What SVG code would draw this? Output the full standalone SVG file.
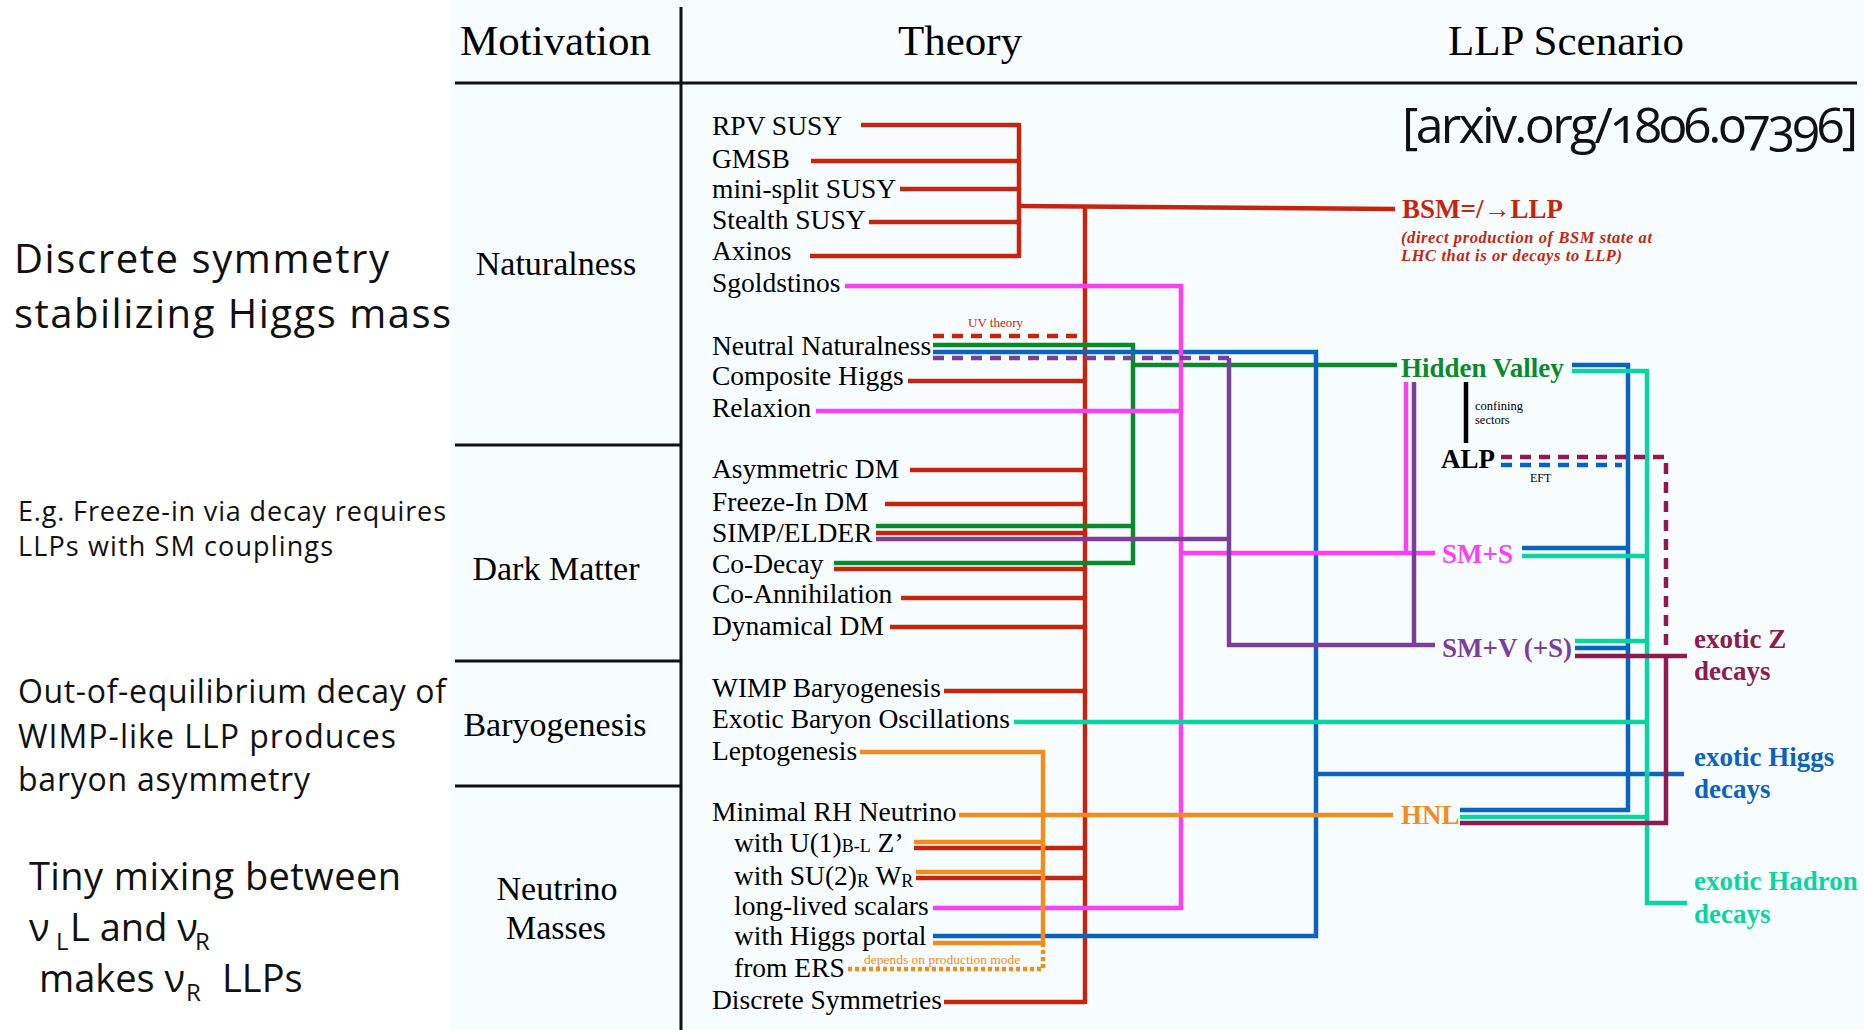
<svg xmlns="http://www.w3.org/2000/svg" width="1864" height="1030" viewBox="0 0 1864 1030">
<style>
.serif{font-family:"Liberation Serif","Times New Roman",serif}
.sans{font-family:"Open Sans","Noto Sans",sans-serif;fill:#111}
.hdr{font-size:43px;fill:#000}
.mot{font-size:34px;fill:#000;text-anchor:middle}
.th{font-size:27.5px;fill:#000}
.sub{font-size:18px}
.lab{font-size:27px;font-weight:bold}
.ln{fill:none;stroke-width:4.5}
.r{stroke:#c5250c}.g{stroke:#0a8a2b}.b{stroke:#0b63c1}.p{stroke:#fc3ff7}.v{stroke:#7b3f9b}.o{stroke:#f28c1c}.t{stroke:#0cd4a0}.m{stroke:#8f1a4f}.k{stroke:#000}
.dash{stroke-dasharray:11 8}
.dot{stroke-dasharray:4 3}
.frame{stroke:#111;stroke-width:3;fill:none}
.fr{fill:#c5250c}.fg{fill:#0a8a2b}.fb{fill:#0b63c1}.fp{fill:#fc3ff7}.fv{fill:#7b3f9b}.fo{fill:#f28c1c}.ft{fill:#0cd4a0}.fm{fill:#8f1a4f}.fk{fill:#000}
</style>
<rect x="0" y="0" width="1864" height="1030" fill="#ffffff"/>
<rect x="450" y="0" width="1414" height="1030" fill="#f7fcff"/>

<g id="table">
  <path class="frame" d="M681,7 V1030"/>
  <path class="frame" d="M455,83 H1857"/>
  <path class="frame" d="M455,445 H681 M455,661 H681 M455,786 H681"/>
</g>

<g id="connectors">
  <!-- red -->
  <path class="ln r" d="M861,125 H1019 M811,161 H1019 M900,189 H1019 M869,222 H1019 M810,256 H1019"/>
  <path class="ln r" d="M1019,123 V258"/>
  <path class="ln r" d="M1019,206 L1395,209"/>
  <path class="ln r" d="M1085,207 V1004"/>
  <path class="ln r" d="M908,381 H1085 M910,470 H1085 M885,504 H1085 M876,533 H1085 M834,569 H1085 M901,598 H1085 M890,627 H1085 M944,691 H1085 M914,848 H1085 M916,878 H1085 M944,1002 H1085"/>
  <path class="ln r dash" d="M933,336 H1077"/>
  <!-- green -->
  <path class="ln g" d="M933,345 H1133 V563 H834"/>
  <path class="ln g" d="M876,526 H1133"/>
  <path class="ln g" d="M1133,365 H1397"/>
  <!-- blue -->
  <path class="ln b" d="M933,352 H1316 V936 H933"/>
  <path class="ln b" d="M1316,774 H1684"/>
  <path class="ln b" d="M1572,365 H1628 V810 H1460"/>
  <path class="ln b" d="M1522,548 H1628 M1575,648 H1628"/>
  <path class="ln b dash" d="M1501,465 H1622"/>
  <!-- pink -->
  <path class="ln p" d="M845,286 H1181 V908 H933"/>
  <path class="ln p" d="M816,411 H1181"/>
  <path class="ln p" d="M1181,553 H1435"/>
  <path class="ln p" d="M1406,382 V553"/>
  <!-- purple -->
  <path class="ln v dash" d="M933,358 H1229"/>
  <path class="ln v" d="M876,539 H1229"/>
  <path class="ln v" d="M1229,358 V645 H1435"/>
  <path class="ln v" d="M1414,382 V645"/>
  <!-- orange -->
  <path class="ln o" d="M860,752 H1043 V943 H933"/>
  <path class="ln o" d="M959,815 H1393"/>
  <path class="ln o" d="M914,842 H1043 M916,872 H1043"/>
  <path class="ln o dot" d="M1043,943 V969 H846"/>
  <!-- teal -->
  <path class="ln t" d="M1014,722 H1647"/>
  <path class="ln t" d="M1572,371 H1647 V903 H1687"/>
  <path class="ln t" d="M1522,556 H1647 M1575,641 H1647 M1460,817 H1647"/>
  <!-- maroon -->
  <path class="ln m dash" d="M1501,457 H1666 V653"/>
  <path class="ln m" d="M1575,656 H1687"/>
  <path class="ln m" d="M1666,656 V823 H1460"/>
  <!-- black -->
  <path class="ln k" d="M1466,382 V443"/>
</g>

<g id="headers" class="serif hdr">
  <text x="460" y="55" textLength="191">Motivation</text>
  <text x="898" y="55">Theory</text>
  <text x="1448" y="55">LLP Scenario</text>
</g>

<g id="motivation-notes" class="sans">
  <g id="note-naturalness">
    <text x="14" y="273" font-size="40" textLength="375">Discrete symmetry</text>
    <text x="14" y="328" font-size="40" textLength="437">stabilizing Higgs mass</text>
  </g>
  <g id="note-dm">
    <text x="18" y="521" font-size="27" textLength="428">E.g. Freeze-in via decay requires</text>
    <text x="18" y="556" font-size="27" textLength="315">LLPs with SM couplings</text>
  </g>
  <g id="note-baryo">
    <text x="18" y="703" font-size="32" textLength="428">Out-of-equilibrium decay of</text>
    <text x="18" y="748" font-size="32" textLength="378">WIMP-like LLP produces</text>
    <text x="18" y="791" font-size="32" textLength="292">baryon asymmetry</text>
  </g>
  <g id="note-nu">
    <text x="29" y="890" font-size="38" textLength="372">Tiny mixing between</text>
    <text y="941" font-size="38"><tspan x="29">ν</tspan><tspan x="56" dy="9" font-size="24">L</tspan><tspan x="70" dy="-9">L and ν</tspan><tspan x="195" dy="9" font-size="24">R</tspan></text>
    <text y="992" font-size="38"><tspan x="39">makes ν</tspan><tspan x="186" dy="9" font-size="24">R</tspan><tspan x="222" dy="-9">LLPs</tspan></text>
  </g>
</g>

<g id="motivations" class="serif mot">
  <g id="m-naturalness"><text x="556" y="275">Naturalness</text></g>
  <g id="m-dm"><text x="556" y="580">Dark Matter</text></g>
  <g id="m-baryo"><text x="555" y="736">Baryogenesis</text></g>
  <g id="m-nu"><text x="557" y="900">Neutrino</text><text x="556" y="939">Masses</text></g>
</g>

<g id="theories" class="serif th">
  <g id="t-rpv"><text x="712" y="135">RPV SUSY</text></g>
  <g id="t-gmsb"><text x="712" y="168">GMSB</text></g>
  <g id="t-minisplit"><text x="712" y="198">mini-split SUSY</text></g>
  <g id="t-stealth"><text x="712" y="229">Stealth SUSY</text></g>
  <g id="t-axinos"><text x="712" y="260">Axinos</text></g>
  <g id="t-sgold"><text x="712" y="292">Sgoldstinos</text></g>
  <g id="t-nn"><text x="712" y="355">Neutral Naturalness</text><text x="968" y="327" font-size="13" class="fr">UV theory</text></g>
  <g id="t-comp"><text x="712" y="385">Composite Higgs</text></g>
  <g id="t-relax"><text x="712" y="417">Relaxion</text></g>
  <g id="t-adm"><text x="712" y="478">Asymmetric DM</text></g>
  <g id="t-fidm"><text x="712" y="511">Freeze-In DM</text></g>
  <g id="t-simp"><text x="712" y="542">SIMP/ELDER</text></g>
  <g id="t-codecay"><text x="712" y="573">Co-Decay</text></g>
  <g id="t-coann"><text x="712" y="603">Co-Annihilation</text></g>
  <g id="t-dyn"><text x="712" y="635">Dynamical DM</text></g>
  <g id="t-wimpb"><text x="712" y="697">WIMP Baryogenesis</text></g>
  <g id="t-ebo"><text x="712" y="728">Exotic Baryon Oscillations</text></g>
  <g id="t-lepto"><text x="712" y="760">Leptogenesis</text></g>
  <g id="t-mrhn"><text x="712" y="821">Minimal RH Neutrino</text></g>
  <g id="t-u1"><text x="734" y="852">with U(1)<tspan class="sub">B-L</tspan> Z’</text></g>
  <g id="t-su2"><text x="734" y="885">with SU(2)<tspan class="sub" dy="2">R</tspan><tspan dy="-2"> W</tspan><tspan class="sub" dy="2">R</tspan></text></g>
  <g id="t-lls"><text x="734" y="915">long-lived scalars</text></g>
  <g id="t-hp"><text x="734" y="945">with Higgs portal</text></g>
  <g id="t-ers"><text x="734" y="977">from ERS</text><text x="864" y="964" font-size="13.5" class="fo">depends on production mode</text></g>
  <g id="t-discrete"><text x="712" y="1009">Discrete Symmetries</text></g>
</g>

<g id="scenarios" class="serif">
  <g id="s-arxiv"><text class="sans" x="1402" y="143" font-size="50" textLength="456" style="fill:#111;font-variant-numeric:oldstyle-nums">[arxiv.org/1806.07396]</text></g>
  <g id="s-bsm">
    <text x="1402" y="218" class="lab fr">BSM=/→LLP</text>
    <text x="1401" y="243" font-size="16.5" font-weight="bold" font-style="italic" class="fr" textLength="251">(direct production of BSM state at</text>
    <text x="1401" y="261" font-size="16.5" font-weight="bold" font-style="italic" class="fr" textLength="221">LHC that is or decays to LLP)</text>
  </g>
  <g id="s-hv"><text x="1401" y="377" class="lab fg">Hidden Valley</text></g>
  <g id="s-confining"><text x="1475" y="410" font-size="12.5" class="fk">confining</text><text x="1475" y="424" font-size="12.5" class="fk">sectors</text></g>
  <g id="s-alp"><text x="1441" y="468" class="lab fk">ALP</text><text x="1530" y="482" font-size="12" class="fk">EFT</text></g>
  <g id="s-sms"><text x="1442" y="563" class="lab fp">SM+S</text></g>
  <g id="s-smv"><text x="1442" y="657" class="lab fv">SM+V (+S)</text></g>
  <g id="s-hnl"><text x="1401" y="824" class="lab fo">HNL</text></g>
  <g id="d-z"><text x="1694" y="648" class="lab fm">exotic Z</text><text x="1694" y="680" class="lab fm">decays</text></g>
  <g id="d-higgs"><text x="1694" y="766" class="lab fb">exotic Higgs</text><text x="1694" y="798" class="lab fb">decays</text></g>
  <g id="d-hadron"><text x="1694" y="890" class="lab ft">exotic Hadron</text><text x="1694" y="923" class="lab ft">decays</text></g>
</g>
</svg>
